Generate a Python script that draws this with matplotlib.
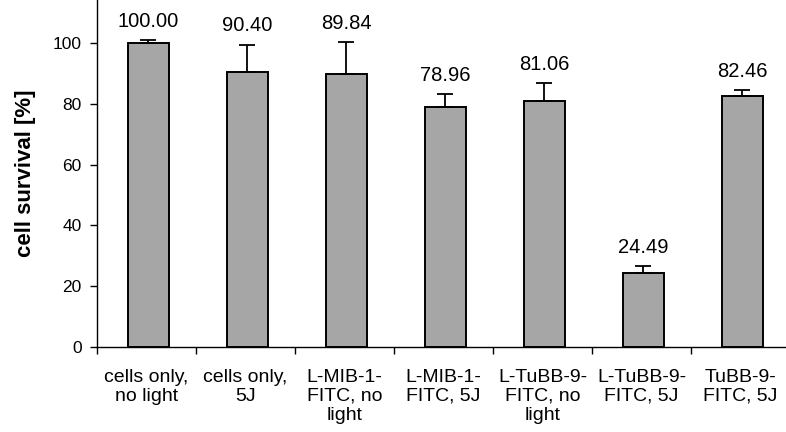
import matplotlib
matplotlib.use("Agg")
import matplotlib.pyplot as plt
import numpy as np

plt.rcParams['font.family'] = ['Liberation Sans', 'DejaVu Sans']

categories = ["cells only,\nno light", "cells only,\n5J", "L-MIB-1-\nFITC, no\nlight",
              "L-MIB-1-\nFITC, 5J", "L-TuBB-9-\nFITC, no\nlight", "L-TuBB-9-\nFITC, 5J",
              "TuBB-9-\nFITC, 5J"]
survival = [100.00, 90.40, 89.84, 78.96, 81.06, 24.49, 82.46]
errors = [1.0, 9.1, 10.6, 4.2, 5.9, 2.0, 2.2]
value_labels = ["100.00", "90.40", "89.84", "78.96", "81.06", "24.49", "82.46"]

fig = plt.figure(figsize=(7.86, 4.32), dpi=100)
ax = fig.add_axes([97/786, 1-347/432, 693/786, 347/432])

x = np.arange(len(categories))
ax.bar(x + 0.02, survival, width=0.41, color="#a6a6a6", edgecolor="black", linewidth=1.4,
       yerr=[np.zeros(len(errors)), errors], capsize=5.5,
       error_kw=dict(elinewidth=1.3, capthick=1.3, ecolor="black"), zorder=2)

for xi, v, e, lab in zip(x, survival, errors, value_labels):
    ax.text(xi + 0.02, v + e + 3.0, lab, ha="center", va="bottom", fontsize=14.5)

ax.set_xlim(-0.5, len(categories) - 0.5)
ax.set_ylim(0, 347/3.04)
ax.set_yticks([0, 20, 40, 60, 80, 100])
ax.set_xticks(x)
ax.set_xticklabels(categories, fontsize=14, linespacing=1.16)
ax.set_xticks(np.arange(len(categories) + 1) - 0.5, minor=True)
ax.tick_params(axis="x", which="major", length=0, pad=15.5)
ax.tick_params(axis="x", which="minor", length=5, width=1, direction="out")
ax.tick_params(axis="y", length=5, width=1, labelsize=12.5, pad=6)

ax.spines["top"].set_visible(False)
ax.spines["right"].set_visible(False)
ax.spines["left"].set_linewidth(1)
ax.spines["bottom"].set_linewidth(1)

ax.set_ylabel("cell survival [%]", fontsize=16, fontweight="bold", labelpad=12)

fig.savefig("out.png", dpi=100)
